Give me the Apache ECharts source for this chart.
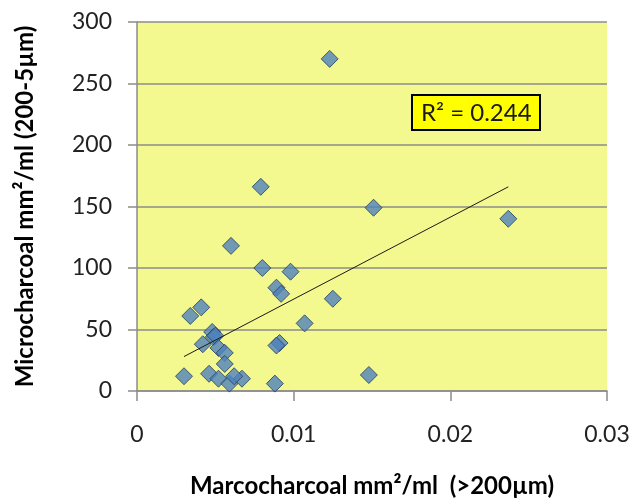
<!DOCTYPE html>
<html lang="en">
<head>
    <meta charset="UTF-8">
    <title>Micro vs macro charcoal</title>
    <script src="https://cdn.jsdelivr.net/npm/echarts@6/dist/echarts.min.js"></script>
</head>
<body style="margin:0;">
<div id="main" style="width: 632px;height: 500px;"></div>

<script type="text/javascript">
    // data
    var macro = [0.0123, 0.0079, 0.0151, 0.0237, 0.0060, 0.0080, 0.0098, 0.0089, 0.0092, 0.0125,
                 0.0041, 0.0034, 0.0107, 0.0048, 0.0049, 0.0050, 0.0042, 0.0091, 0.0089, 0.0052,
                 0.0056, 0.0056, 0.0030, 0.0046, 0.0052, 0.0059, 0.0067, 0.0088, 0.0148, 0.0062];
    var micro = [270, 166, 149, 140, 118, 100, 97, 84, 79, 75,
                 68, 61, 55, 48, 44, 45, 38, 39, 37, 35,
                 31, 22, 12, 14, 10, 6, 10, 6, 13, 12];
    // linear trendline end points
    var trendX = [0.0030, 0.0237];
    var trendY = [28, 166];
    var xTicks = [0, 0.01, 0.02, 0.03];
    var yTicks = [0, 50, 100, 150, 200, 250, 300];

    var points = macro.map(function (v, i) { return [v, micro[i]]; });
    var trend = trendX.map(function (v, i) { return [v, trendY[i]]; });

    var myChart = echarts.init(document.getElementById('main'));

    var gray = '#8c8c8c';
    var option = {
        backgroundColor: '#ffffff',
        textStyle: {fontFamily: 'Lato'},
        title: {
            text: 'R\u00b2 = 0.244',
            left: 412,
            top: 95,
            backgroundColor: '#ffff00',
            borderColor: '#000000',
            borderWidth: 2,
            padding: [6, 9, 5, 9],
            textStyle: {fontFamily: 'Lato', fontSize: 24, fontWeight: 'normal', color: '#1a1a1a'}
        },
        grid: {
            left: 137, right: 25, top: 22, bottom: 109,
            outerBoundsMode: 'none',
            show: true,
            backgroundColor: '#f4f98f',
            borderWidth: 0
        },
        xAxis: {
            type: 'value',
            min: xTicks[0],
            max: xTicks[xTicks.length - 1],
            interval: 0.01,
            name: 'Marcocharcoal mm\u00b2/ml  (>200\u00b5m)',
            nameLocation: 'middle',
            nameGap: 83,
            nameTextStyle: {fontFamily: 'Lato', fontSize: 24, fontWeight: 'bold', color: '#000'},
            axisLine: {show: true, lineStyle: {color: gray, width: 1.5}},
            axisTick: {show: true, length: 10, lineStyle: {color: gray, width: 1.5}},
            axisLabel: {margin: 32, fontSize: 23, color: '#222', formatter: function (v) { return String(+v.toFixed(2)); }},
            splitLine: {show: false}
        },
        yAxis: {
            type: 'value',
            min: yTicks[0],
            max: yTicks[yTicks.length - 1],
            interval: 50,
            name: 'Microcharcoal mm\u00b2/ml (200-5\u00b5m)',
            nameLocation: 'middle',
            nameGap: 100,
            nameTextStyle: {fontFamily: 'Lato', fontSize: 24, fontWeight: 'bold', color: '#000'},
            axisLine: {show: true, lineStyle: {color: gray, width: 1.5}},
            axisTick: {show: true, length: 9, lineStyle: {color: gray, width: 1.5}},
            axisLabel: {margin: 25, fontSize: 23, color: '#222'},
            splitLine: {show: true, lineStyle: {color: gray, width: 1.5}}
        },
        series: [
            {
                type: 'line',
                data: trend,
                symbol: 'none',
                lineStyle: {color: '#1a1a1a', width: 1},
                z: 3
            },
            {
                type: 'scatter',
                data: points,
                symbol: 'diamond',
                symbolSize: 17,
                itemStyle: {color: '#4f81bd', borderColor: '#263d5e', borderWidth: 1},
                z: 2
            }
        ]
    };

    myChart.setOption(option);
</script>
</body>
</html>
